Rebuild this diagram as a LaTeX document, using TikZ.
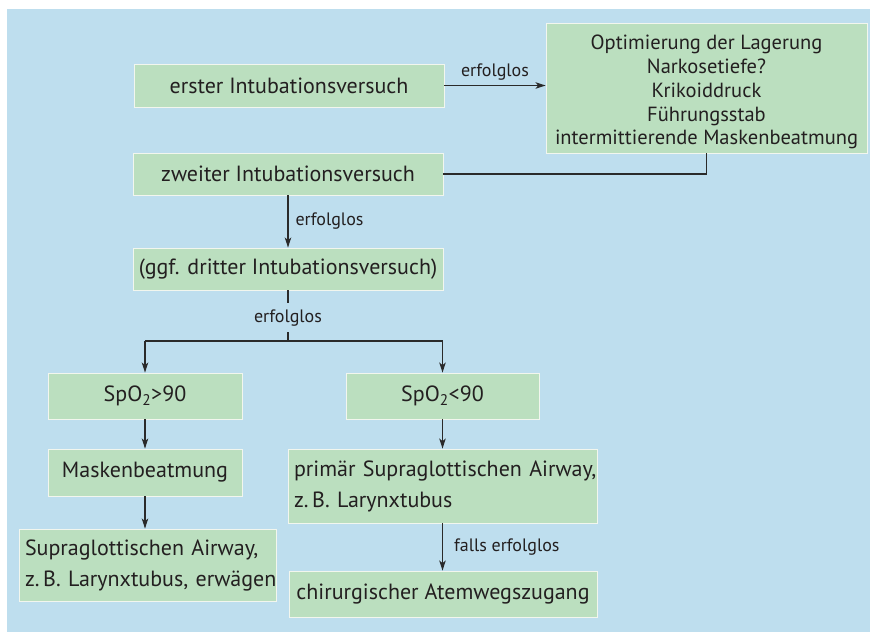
\documentclass[tikz,border=0pt]{standalone}
\usepackage{fontspec}
\setmainfont{PT Sans}
\usetikzlibrary{arrows.meta}
\definecolor{bgblue}{HTML}{BEDEEE}
\definecolor{boxgreen}{HTML}{BBDFBF}
\definecolor{txt}{HTML}{231F20}
\definecolor{ln}{HTML}{2A2A2A}
\definecolor{edge}{HTML}{F2F6EE}
\begin{document}
\begin{tikzpicture}[x=1pt,y=-1pt,
 box/.style={fill=boxgreen, draw=edge, line width=0.9pt, inner sep=0pt, text=txt, font=\fontsize{22}{26}\selectfont},
 obox/.style={box, align=center, font=\fontsize{20.5}{23.7}\selectfont},
 lbox/.style={box, align=left, inner xsep=6pt, font=\fontsize{22}{31}\selectfont},
 lbl/.style={text=txt, font=\fontsize{18}{20}\selectfont, inner sep=1pt},
 conn/.style={draw=ln, line width=1.2pt},
 arr/.style={conn, -{Stealth[length=10pt,width=6.5pt,inset=2.5pt]}}]
\useasboundingbox (0,0) rectangle (870,632);
\fill[white] (0,0) rectangle (870,632);
\fill[bgblue] (7,9) rectangle (870,632);

\node[box, minimum width=310pt, minimum height=43pt] (b1) at (289,85.5) {erster Intubationsversuch};
\node[obox, minimum width=321pt, minimum height=130pt] (opt) at (706.5,88) {\rule{0pt}{23pt}Optimierung der Lagerung\\Narkosetiefe?\\Krikoiddruck\\Führungsstab\\intermittierende Maskenbeatmung};
\node[box, minimum width=310pt, minimum height=42pt] (b2) at (288,174) {zweiter Intubationsversuch};
\node[box, minimum width=310pt, minimum height=42pt] (b3) at (288,269) {(ggf. dritter Intubationsversuch)};
\node[box, minimum width=194pt, minimum height=46pt] (s1) at (145,396) {SpO\textsubscript{2}>90};
\node[box, minimum width=193pt, minimum height=46pt] (s2) at (442.5,396) {SpO\textsubscript{2}<90};
\node[box, minimum width=194pt, minimum height=47pt] (mask) at (145,472.5) {Maskenbeatmung};
\node[lbox, text width=297pt, minimum height=74pt] (prim) at (442.5,486) {\mbox{primär Supraglottischen Airway,}\\\mbox{z.\,B. Larynxtubus}};
\node[lbox, text width=245pt, minimum height=72pt] (supl) at (147.5,565) {\mbox{Supraglottischen Airway,}\\\mbox{z.\,B. Larynxtubus, erwägen}};
\node[box, minimum width=308pt, minimum height=46pt] (chir) at (443,594) {chirurgischer Atemwegszugang};

\draw[arr] (b1.east) -- node[lbl, above=4pt]{erfolglos} (b1.east -| opt.west);
\draw[conn] (opt.south) |- (b2.east);
\draw[arr] (b2.south) -- node[lbl, anchor=west, xshift=6pt]{erfolglos} (b3.north);
\coordinate (j) at (288,341);
\coordinate (jl) at (145,341);
\coordinate (jr) at (442.5,341);
\draw[conn] (b3.south) -- node[lbl, fill=bgblue, inner xsep=2pt, inner ysep=6pt, pos=0.54]{erfolglos} (j);
\draw[conn] (jl) -- (jr);
\draw[arr] (jl) -- (s1.north);
\draw[arr] (jr) -- (s2.north);
\draw[arr] (s1.south) -- (mask.north);
\draw[arr] (mask.south) -- (mask.south |- supl.north);
\draw[arr] (s2.south) -- (prim.north);
\draw[arr] (prim.south) -- node[lbl, anchor=west, xshift=10pt]{falls erfolglos} (prim.south |- chir.north);
\end{tikzpicture}
\end{document}
